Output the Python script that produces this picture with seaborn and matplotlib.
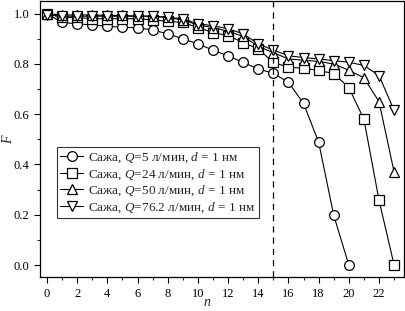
import pandas as pd
import numpy as np
import matplotlib
matplotlib.use('Agg')
import matplotlib.pyplot as plt
import seaborn as sns

# values
n_q5 = list(range(0, 21))
f_q5 = [1.0, 0.965, 0.96, 0.955, 0.95, 0.946, 0.944, 0.935, 0.92, 0.90, 0.88,
        0.855, 0.832, 0.806, 0.78, 0.763, 0.727, 0.643, 0.489, 0.198, 0.0]

n_q24 = list(range(0, 24))
f_q24 = [1.0, 0.985, 0.985, 0.98, 0.98, 0.98, 0.98, 0.975, 0.97, 0.965, 0.945,
         0.925, 0.913, 0.885, 0.86, 0.806, 0.787, 0.783, 0.774, 0.762, 0.706,
         0.58, 0.258, 0.0]

n_q50 = list(range(0, 24))
f_q50 = [1.0, 0.995, 0.995, 0.995, 0.993, 0.993, 0.99, 0.99, 0.985, 0.975, 0.955,
         0.945, 0.93, 0.91, 0.87, 0.845, 0.82, 0.815, 0.81, 0.80, 0.775,
         0.745, 0.65, 0.37]

n_q76 = list(range(0, 24))
f_q76 = [0.995, 0.99, 0.99, 0.99, 0.99, 0.99, 0.99, 0.99, 0.985, 0.98, 0.96,
         0.952, 0.94, 0.92, 0.88, 0.855, 0.833, 0.825, 0.82, 0.813, 0.807,
         0.794, 0.754, 0.615]

labels = [
    'Сажа, $Q$=5 л/мин, $d$ = 1 нм',
    'Сажа, $Q$=24 л/мин, $d$ = 1 нм',
    'Сажа, $Q$=50 л/мин, $d$ = 1 нм',
    'Сажа, $Q$=76.2 л/мин, $d$ = 1 нм',
]
markers = ['o', 's', '^', 'v']
series = [(n_q5, f_q5), (n_q24, f_q24), (n_q50, f_q50), (n_q76, f_q76)]

frames = []
for lab, (xs, ys) in zip(labels, series):
    frames.append(pd.DataFrame({'n': xs, 'F': ys, 'series': lab}))
df = pd.concat(frames, ignore_index=True)

sns.set_style('ticks')
plt.rcParams['font.family'] = ['Liberation Serif', 'DejaVu Serif']
plt.rcParams['mathtext.fontset'] = 'custom'
plt.rcParams['mathtext.it'] = 'Liberation Serif:italic'
plt.rcParams['mathtext.rm'] = 'Liberation Serif'

fig = plt.figure(figsize=(4.06, 3.11), dpi=100)
ax = fig.add_axes([0.0985, 0.109, 0.896, 0.889])

for lab, m in zip(labels, markers):
    sub = df[df['series'] == lab]
    sns.lineplot(data=sub, x='n', y='F', ax=ax, color='black', lw=0.8,
                 marker=m, markersize=7 if m != 'v' else 7.5,
                 markerfacecolor='white', markeredgecolor='black',
                 markeredgewidth=0.9, label=lab)

ax.axvline(15, color='black', lw=0.9, ls=(0, (5, 4)))

ax.set_xlim(-0.46, 23.64)
ax.set_ylim(-0.048, 1.052)
ax.set_xticks(np.arange(0, 23, 2))
ax.set_xticks(np.arange(1, 24, 2), minor=True)
ax.set_yticks(np.arange(0, 1.01, 0.2))
ax.set_yticks(np.arange(0.1, 1.0, 0.2), minor=True)
ax.set_yticklabels([f'{v:.1f}' for v in np.arange(0, 1.01, 0.2)])
ax.tick_params(which='major', direction='out', length=4, width=0.8,
               labelsize=9, colors='black')
ax.tick_params(which='minor', direction='out', length=2.5, width=0.8)
for sp in ax.spines.values():
    sp.set_linewidth(0.9)
    sp.set_color('black')

ax.set_xlabel('$n$', fontsize=10)
ax.set_ylabel('$F$', fontsize=10)
ax.xaxis.set_label_coords(0.46, -0.068)
ax.yaxis.set_label_coords(-0.068, 0.5)

leg = ax.legend(loc='upper left', bbox_to_anchor=(0.047, 0.469), fontsize=9.5,
                frameon=True, fancybox=False, borderpad=0.25, labelspacing=0.15,
                handlelength=1.7, handletextpad=0.4, borderaxespad=0)
leg.get_frame().set_edgecolor('black')
leg.get_frame().set_linewidth(0.8)

fig.savefig('out.png', dpi=100)
plt.close('all')
